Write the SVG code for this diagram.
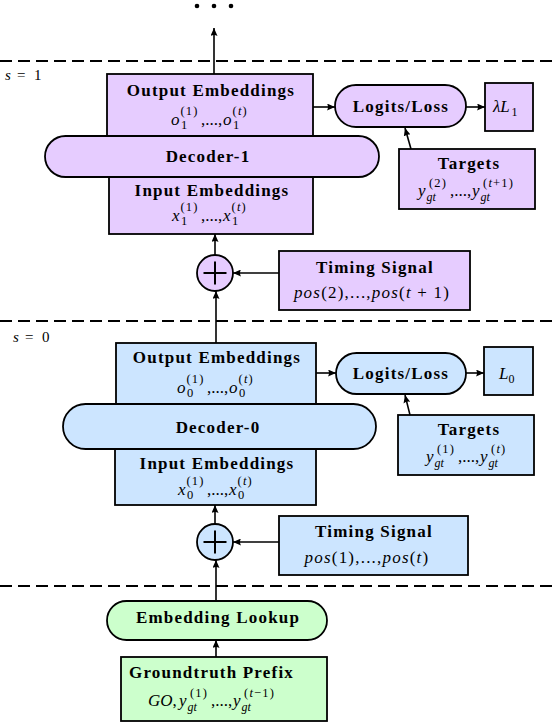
<svg xmlns="http://www.w3.org/2000/svg" width="556" height="724" viewBox="0 0 556 724">
<style>
.pu{fill:#e6ccff;stroke:#000;stroke-width:1.8}
.bl{fill:#cce5ff;stroke:#000;stroke-width:1.8}
.gr{fill:#ccffcc;stroke:#000;stroke-width:1.8}
.bt{font-family:"Liberation Serif",serif;font-weight:bold;font-size:17px;letter-spacing:1.2px;text-anchor:middle;fill:#000}
.m{font-family:"Liberation Serif",serif;font-size:17px;fill:#000}
.i{font-style:italic}
.sc{font-size:12.5px;letter-spacing:1.2px}
.ss{font-size:12px}
.dash{stroke:#000;stroke-width:1.8;stroke-dasharray:12 6;fill:none}
.cn{stroke:#000;stroke-width:1.6;fill:none;marker-end:url(#ah)}
.pl{stroke:#000;stroke-width:2;fill:none}
</style>
<defs>
<marker id="ah" markerUnits="userSpaceOnUse" markerWidth="9" markerHeight="7" refX="8" refY="3.5" orient="auto">
<path d="M0,0 L8,3.5 L0,7 Q2,3.5 0,0 z" fill="#000"/>
</marker>
</defs>
<rect width="556" height="724" fill="#fff"/>

<g id="ellipsis">
<circle cx="197" cy="6" r="2.3" fill="#000"/>
<circle cx="214" cy="6" r="2.3" fill="#000"/>
<circle cx="231" cy="6" r="2.3" fill="#000"/>
</g>

<g id="separators">
<line class="dash" x1="0" y1="61" x2="556" y2="61"/>
<line class="dash" x1="0" y1="321" x2="556" y2="321"/>
<line class="dash" x1="0" y1="586" x2="556" y2="586"/>
<text class="m" y="80" style="font-size:15px"><tspan x="5" class="i">s</tspan><tspan x="17">=</tspan><tspan x="34">1</tspan></text>
<text class="m" y="342" style="font-size:15px"><tspan x="13" class="i">s</tspan><tspan x="25">=</tspan><tspan x="42">0</tspan></text>
</g>

<!-- Stage s=1 (purple) -->
<g id="out-emb-1">
<rect class="pu" x="107" y="74" width="206" height="64"/>
<text class="bt" x="211" y="96">Output Embeddings</text>
<text class="m"><tspan x="171" y="125" class="i">o</tspan><tspan x="180.5" y="115" class="sc">(1)</tspan><tspan x="181" y="129" class="sc">1</tspan><tspan x="201" y="125">,...,</tspan><tspan x="223" y="125" class="i">o</tspan><tspan x="232.5" y="115" class="sc">(<tspan class="i">t</tspan>)</tspan><tspan x="233" y="129" class="sc">1</tspan></text>
</g>
<g id="in-emb-1">
<rect class="pu" x="109" y="175" width="204" height="59"/>
<text class="bt" x="212" y="196">Input Embeddings</text>
<text class="m"><tspan x="172" y="221" class="i">x</tspan><tspan x="180.5" y="211" class="sc">(1)</tspan><tspan x="181" y="225" class="sc">1</tspan><tspan x="201" y="221">,...,</tspan><tspan x="223" y="221" class="i">x</tspan><tspan x="231.5" y="211" class="sc">(<tspan class="i">t</tspan>)</tspan><tspan x="232" y="225" class="sc">1</tspan></text>
</g>
<g id="decoder-1">
<rect class="pu" x="45" y="136" width="334" height="41" rx="20.5"/>
<text class="bt" x="208" y="162">Decoder-1</text>
</g>
<g id="logits-1">
<rect class="pu" x="335" y="85" width="131" height="42" rx="21"/>
<text class="bt" x="401" y="111.5">Logits/Loss</text>
</g>
<g id="loss-1">
<rect class="pu" x="485" y="83" width="48" height="48"/>
<text class="m"><tspan x="493" y="112" class="i">λL</tspan><tspan x="511.5" y="116" class="ss">1</tspan></text>
</g>
<g id="targets-1">
<rect class="pu" x="399" y="149" width="136" height="60"/>
<text class="bt" x="469" y="169">Targets</text>
<text class="m"><tspan x="418" y="196" class="i">y</tspan><tspan x="426.5" y="200.5" class="ss i">gt</tspan><tspan x="429" y="187" class="sc">(2)</tspan><tspan x="450" y="196">,...,</tspan><tspan x="472" y="196" class="i">y</tspan><tspan x="480.5" y="200.5" class="ss i">gt</tspan><tspan x="483" y="187" class="sc">(<tspan class="i">t</tspan>+1)</tspan></text>
</g>
<g id="plus-1">
<circle class="pu" cx="215" cy="273" r="18"/>
<line class="pl" x1="203.5" y1="273" x2="226.5" y2="273"/>
<line class="pl" x1="215" y1="261.5" x2="215" y2="284.5"/>
</g>
<g id="timing-1">
<rect class="pu" x="279" y="251" width="191" height="59"/>
<text class="bt" x="375" y="273">Timing Signal</text>
<text class="m" x="372" y="298" style="text-anchor:middle;letter-spacing:1.2px"><tspan class="i">pos</tspan>(2),...,<tspan class="i">pos</tspan>(<tspan class="i">t</tspan> + 1)</text>
</g>

<!-- Stage s=0 (blue) -->
<g id="out-emb-0">
<rect class="bl" x="116" y="343" width="200" height="63"/>
<text class="bt" x="217" y="363">Output Embeddings</text>
<text class="m"><tspan x="177" y="393" class="i">o</tspan><tspan x="186.5" y="383" class="sc">(1)</tspan><tspan x="187" y="397" class="sc">0</tspan><tspan x="207" y="393">,...,</tspan><tspan x="229" y="393" class="i">o</tspan><tspan x="238.5" y="383" class="sc">(<tspan class="i">t</tspan>)</tspan><tspan x="239" y="397" class="sc">0</tspan></text>
</g>
<g id="in-emb-0">
<rect class="bl" x="115" y="447" width="201" height="58"/>
<text class="bt" x="217" y="469">Input Embeddings</text>
<text class="m"><tspan x="178" y="495" class="i">x</tspan><tspan x="186.5" y="485" class="sc">(1)</tspan><tspan x="187" y="499" class="sc">0</tspan><tspan x="207" y="495">,...,</tspan><tspan x="229" y="495" class="i">x</tspan><tspan x="237.5" y="485" class="sc">(<tspan class="i">t</tspan>)</tspan><tspan x="238" y="499" class="sc">0</tspan></text>
</g>
<g id="decoder-0">
<rect class="bl" x="63" y="404" width="313" height="45" rx="22.5"/>
<text class="bt" x="218" y="432.5">Decoder-0</text>
</g>
<g id="logits-0">
<rect class="bl" x="336" y="353" width="130" height="41" rx="20.5"/>
<text class="bt" x="401" y="379">Logits/Loss</text>
</g>
<g id="loss-0">
<rect class="bl" x="484" y="347" width="49" height="48"/>
<text class="m"><tspan x="499" y="379" class="i">L</tspan><tspan x="508.5" y="383" class="ss">0</tspan></text>
</g>
<g id="targets-0">
<rect class="bl" x="398" y="415" width="136" height="60"/>
<text class="bt" x="469" y="435">Targets</text>
<text class="m"><tspan x="426" y="462" class="i">y</tspan><tspan x="434.5" y="466.5" class="ss i">gt</tspan><tspan x="437" y="453" class="sc">(1)</tspan><tspan x="458" y="462">,...,</tspan><tspan x="480" y="462" class="i">y</tspan><tspan x="488.5" y="466.5" class="ss i">gt</tspan><tspan x="491" y="453" class="sc">(<tspan class="i">t</tspan>)</tspan></text>
</g>
<g id="plus-0">
<circle class="bl" cx="215" cy="542" r="18"/>
<line class="pl" x1="203.5" y1="542" x2="226.5" y2="542"/>
<line class="pl" x1="215" y1="530.5" x2="215" y2="553.5"/>
</g>
<g id="timing-0">
<rect class="bl" x="279" y="516" width="189" height="59"/>
<text class="bt" x="374" y="537">Timing Signal</text>
<text class="m" x="367" y="563" style="text-anchor:middle;letter-spacing:1.2px"><tspan class="i">pos</tspan>(1),...,<tspan class="i">pos</tspan>(<tspan class="i">t</tspan>)</text>
</g>

<!-- Input (green) -->
<g id="embedding-lookup">
<rect class="gr" x="107" y="601" width="220" height="39" rx="19.5"/>
<text class="bt" x="218" y="622.5">Embedding Lookup</text>
</g>
<g id="groundtruth-prefix">
<rect class="gr" x="121" y="657" width="206" height="64"/>
<text class="bt" x="129" y="678" style="text-anchor:start">Groundtruth Prefix</text>
<text class="m"><tspan x="148" y="706" class="i">GO</tspan><tspan>,</tspan><tspan x="179" y="706" class="i">y</tspan><tspan x="187.5" y="710.5" class="ss i">gt</tspan><tspan x="190" y="696.5" class="sc">(1)</tspan><tspan x="211" y="706">,...,</tspan><tspan x="233" y="706" class="i">y</tspan><tspan x="241.5" y="710.5" class="ss i">gt</tspan><tspan x="244" y="696.5" class="sc">(<tspan class="i">t</tspan>−1)</tspan></text>
</g>

<g id="connectors">
<line class="cn" x1="214" y1="74" x2="214" y2="28"/>
<line class="cn" x1="215" y1="255" x2="215" y2="234"/>
<line class="cn" x1="216" y1="343" x2="216" y2="291"/>
<line class="cn" x1="279" y1="273" x2="233" y2="273"/>
<line class="cn" x1="313" y1="107" x2="335" y2="107"/>
<line class="cn" x1="466" y1="107" x2="485" y2="107"/>
<line class="cn" x1="411" y1="149" x2="405" y2="128"/>
<line class="cn" x1="215" y1="524" x2="215" y2="505"/>
<line class="cn" x1="216" y1="601" x2="216" y2="560"/>
<line class="cn" x1="216" y1="657" x2="216" y2="640"/>
<line class="cn" x1="279" y1="542" x2="233" y2="542"/>
<line class="cn" x1="316" y1="373" x2="336" y2="373"/>
<line class="cn" x1="466" y1="373" x2="484" y2="373"/>
<line class="cn" x1="410" y1="415" x2="405" y2="395"/>
</g>
</svg>
